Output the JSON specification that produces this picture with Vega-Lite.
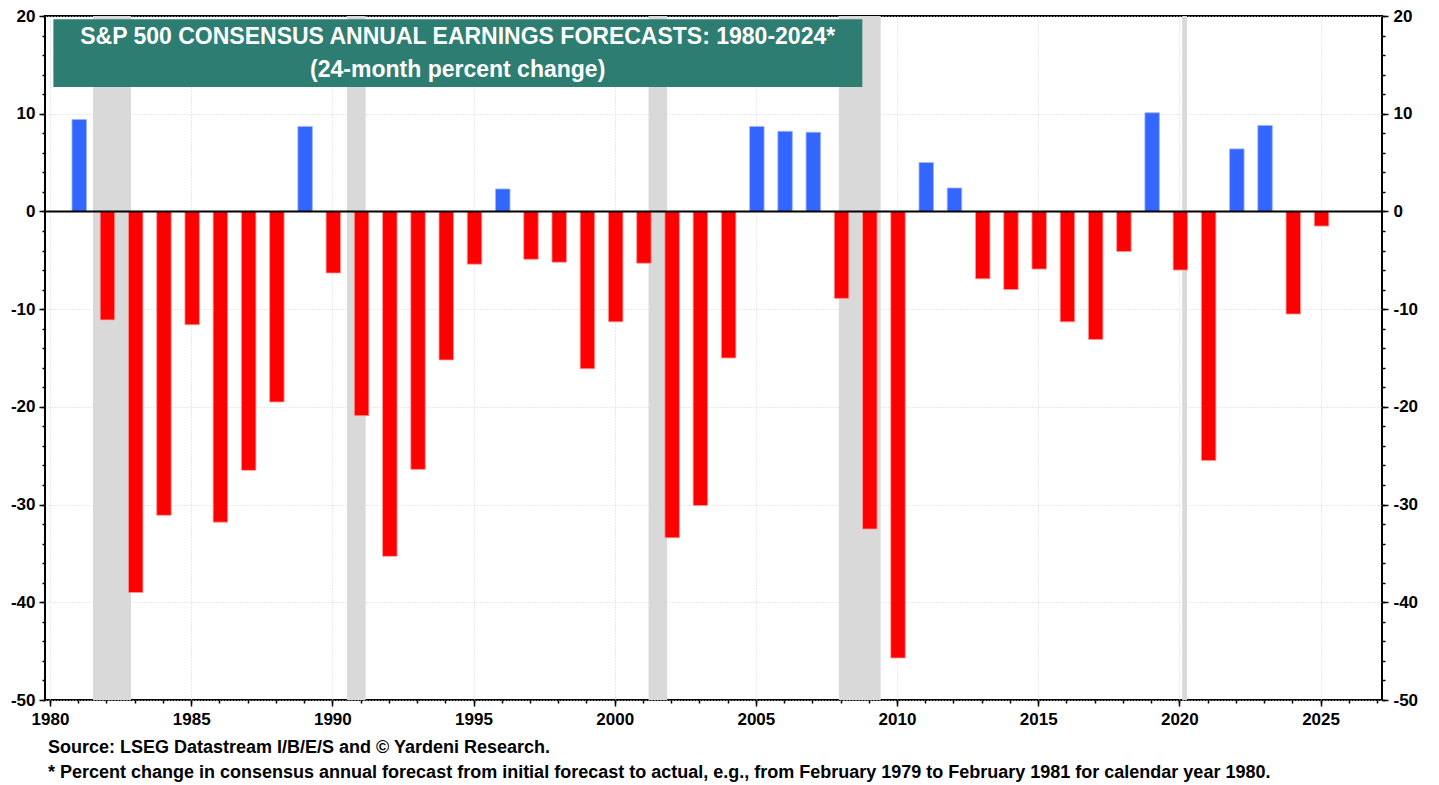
{
  "$schema": "https://vega.github.io/schema/vega-lite/v6.json",
  "autosize": {"type": "none"},
  "width": 1337,
  "height": 684,
  "padding": {"left": 45, "top": 16, "right": 57, "bottom": 85},
  "background": "white",
  "config": {
    "view": {"stroke": "black", "strokeWidth": 2},
    "font": "Liberation Sans",
    "axis": {"labelFont": "Liberation Sans", "labelFontWeight": "bold", "labelFontSize": 17, "labelColor": "black", "tickColor": "black", "tickWidth": 1.5, "domain": false, "title": null, "gridColor": "#d3d3d3", "gridDash": [1, 2], "gridWidth": 1}
  },
  "title": {
    "text": ["Source: LSEG Datastream I/B/E/S and © Yardeni Research.", "* Percent change in consensus annual forecast from initial forecast to actual, e.g., from February 1979 to February 1981 for calendar year 1980."],
    "orient": "bottom",
    "anchor": "start",
    "frame": "group",
    "font": "Liberation Sans",
    "fontSize": 18,
    "fontWeight": "bold",
    "color": "black",
    "lineHeight": 25,
    "offset": 12,
    "dx": 3
  },
  "datasets": {
    "recessions": [
      {"start": 1981.52, "end": 1982.87},
      {"start": 1990.52, "end": 1991.18},
      {"start": 2001.2, "end": 2001.86},
      {"start": 2007.94, "end": 2009.42},
      {"start": 2020.1, "end": 2020.27}
    ],
    "forecasts": [
      {"year": 1981, "value": 9.4},
      {"year": 1982, "value": -11.1},
      {"year": 1983, "value": -39.0},
      {"year": 1984, "value": -31.1},
      {"year": 1985, "value": -11.6},
      {"year": 1986, "value": -31.8},
      {"year": 1987, "value": -26.5},
      {"year": 1988, "value": -19.5},
      {"year": 1989, "value": 8.7},
      {"year": 1990, "value": -6.3},
      {"year": 1991, "value": -20.9},
      {"year": 1992, "value": -35.3},
      {"year": 1993, "value": -26.4},
      {"year": 1994, "value": -15.2},
      {"year": 1995, "value": -5.4},
      {"year": 1996, "value": 2.3},
      {"year": 1997, "value": -4.9},
      {"year": 1998, "value": -5.2},
      {"year": 1999, "value": -16.1},
      {"year": 2000, "value": -11.3},
      {"year": 2001, "value": -5.3},
      {"year": 2002, "value": -33.4},
      {"year": 2003, "value": -30.1},
      {"year": 2004, "value": -15.0},
      {"year": 2005, "value": 8.7},
      {"year": 2006, "value": 8.2},
      {"year": 2007, "value": 8.1},
      {"year": 2008, "value": -8.9},
      {"year": 2009, "value": -32.5},
      {"year": 2010, "value": -45.7},
      {"year": 2011, "value": 5.0},
      {"year": 2012, "value": 2.4},
      {"year": 2013, "value": -6.9},
      {"year": 2014, "value": -8.0},
      {"year": 2015, "value": -5.9},
      {"year": 2016, "value": -11.3},
      {"year": 2017, "value": -13.1},
      {"year": 2018, "value": -4.1},
      {"year": 2019, "value": 10.1},
      {"year": 2020, "value": -6.0},
      {"year": 2021, "value": -25.5},
      {"year": 2022, "value": 6.4},
      {"year": 2023, "value": 8.8},
      {"year": 2024, "value": -10.5},
      {"year": 2025, "value": -1.5}
    ]
  },
  "resolve": {"axis": {"x": "independent", "y": "independent"}},
  "layer": [
    {
      "data": {"name": "recessions"},
      "mark": {"type": "rect", "color": "#d9d9d9"},
      "encoding": {
        "x": {"field": "start", "type": "quantitative", "scale": {"domain": [1980, 2027], "nice": false, "zero": false},
              "axis": {"orient": "bottom", "values": [1980, 1985, 1990, 1995, 2000, 2005, 2010, 2015, 2020, 2025], "format": "d", "tickSize": 6, "labelPadding": 5, "grid": true}},
        "x2": {"field": "end"}
      }
    },
    {
      "data": {"name": "forecasts"},
      "mark": {"type": "bar", "width": 14.5, "xOffset": 1, "strokeWidth": 0.8},
      "encoding": {
        "x": {"field": "year", "type": "quantitative", "scale": {"domain": [1980, 2027], "nice": false, "zero": false},
              "axis": {"orient": "bottom", "values": [1980,1981,1982,1983,1984,1985,1986,1987,1988,1989,1990,1991,1992,1993,1994,1995,1996,1997,1998,1999,2000,2001,2002,2003,2004,2005,2006,2007,2008,2009,2010,2011,2012,2013,2014,2015,2016,2017,2018,2019,2020,2021,2022,2023,2024,2025,2026,2027], "labels": false, "tickSize": 3, "grid": false}},
        "y": {"field": "value", "type": "quantitative", "scale": {"domain": [-50, 20], "nice": false},
              "axis": {"orient": "left", "values": [-50, -40, -30, -20, -10, 0, 10, 20], "labelExpr": "'' + datum.value", "tickSize": 6, "labelPadding": 4, "grid": true}},
        "color": {"condition": {"test": "datum.value > 0", "value": "#3366ff"}, "value": "#ff0000"},
        "stroke": {"condition": {"test": "datum.value > 0", "value": "#9db5ff"}, "value": "#ff9a9a"}
      }
    },
    {
      "data": {"values": [{}]},
      "mark": {"type": "rule", "color": "black", "strokeWidth": 2},
      "encoding": {
        "y": {"datum": 0, "type": "quantitative",
              "axis": {"orient": "left", "values": [-50,-48,-46,-44,-42,-40,-38,-36,-34,-32,-30,-28,-26,-24,-22,-20,-18,-16,-14,-12,-10,-8,-6,-4,-2,0,2,4,6,8,10,12,14,16,18,20], "labels": false, "tickSize": 3, "grid": false}}
      }
    },
    {
      "data": {"values": [{}]},
      "mark": {"type": "rect", "color": "#2e7d72"},
      "encoding": {
        "x": {"datum": 1980.12, "type": "quantitative", "axis": null},
        "x2": {"datum": 2008.77},
        "y": {"datum": 19.68, "type": "quantitative",
              "axis": {"orient": "right", "values": [-50, -40, -30, -20, -10, 0, 10, 20], "labelExpr": "'' + datum.value", "tickSize": 6, "labelPadding": 5, "grid": false}},
        "y2": {"datum": 12.74}
      }
    },
    {
      "data": {"values": [{}]},
      "mark": {"type": "text", "color": "white", "font": "Liberation Sans", "fontWeight": "bold", "fontSize": 23, "align": "center", "baseline": "middle"},
      "encoding": {
        "x": {"datum": 1994.44, "type": "quantitative", "axis": null},
        "y": {"datum": 17.83, "type": "quantitative",
              "axis": {"orient": "right", "values": [-50,-48,-46,-44,-42,-40,-38,-36,-34,-32,-30,-28,-26,-24,-22,-20,-18,-16,-14,-12,-10,-8,-6,-4,-2,0,2,4,6,8,10,12,14,16,18,20], "labels": false, "tickSize": 3, "grid": false}},
        "text": {"value": "S&P 500 CONSENSUS ANNUAL EARNINGS FORECASTS: 1980-2024*"}
      }
    },
    {
      "data": {"values": [{}]},
      "mark": {"type": "text", "color": "white", "font": "Liberation Sans", "fontWeight": "bold", "fontSize": 23, "align": "center", "baseline": "middle"},
      "encoding": {
        "x": {"datum": 1994.44, "type": "quantitative", "axis": null},
        "y": {"datum": 14.45, "type": "quantitative", "axis": null},
        "text": {"value": "(24-month percent change)"}
      }
    }
  ]
}
